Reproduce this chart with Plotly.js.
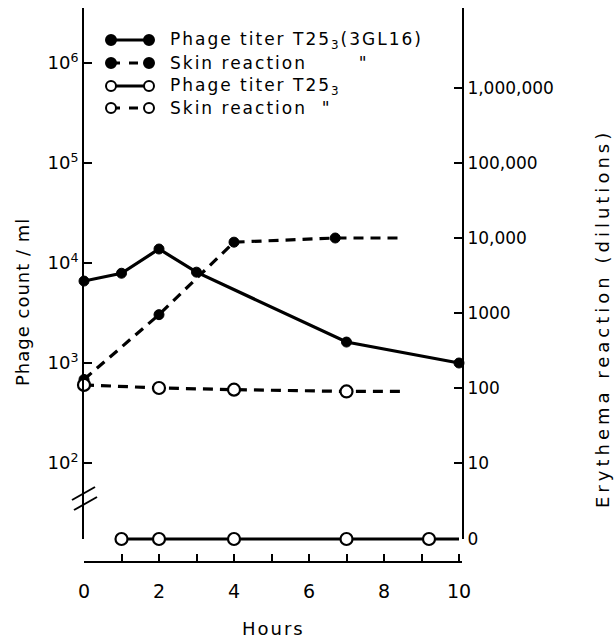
<!DOCTYPE html>
<html>
<head>
<meta charset="utf-8">
<script src="https://cdn.plot.ly/plotly-3.0.1.min.js"></script>
<style>html,body{margin:0;padding:0;background:#fff;}#chart{width:614px;height:640px;}</style>
</head>
<body>
<div id="chart"></div>
<script>
// ---- data ----
const titerFilledHours = [0, 1, 2, 3, 7, 10];
const titerFilledCount = [6600, 7900, 13800, 8100, 1620, 1000];
const skinFilledHours = [0, 2, 4, 6.7, 8.5];
const skinFilledDilution = [130, 950, 8800, 10000, 10000];
const skinFilledMarkers = [true, true, true, true, false];
const skinOpenHours = [0, 2, 4, 7, 8.5];
const skinOpenDilution = [110, 100, 95, 90, 90];
const skinOpenMarkers = [true, true, true, true, false];
const titerOpenHours = [1, 2, 4, 7, 9.2, 10];
const titerOpenValue = [0, 0, 0, 0, 0, 0];
const titerOpenMarkers = [true, true, true, true, true, false];
const hourLabelTicks = [0, 2, 4, 6, 8, 10];
const hourMinorTicks = [1, 3, 5, 7, 9];
const leftTicks = [1e2, 1e3, 1e4, 1e5, 1e6];
const leftLabels = ['10<sup>2</sup>','10<sup>3</sup>','10<sup>4</sup>','10<sup>5</sup>','10<sup>6</sup>'];
const rightTicks = [10, 100, 1000, 10000, 100000, 1000000];
const rightLabels = ['10','100','1000','10,000','100,000','1,000,000'];
const zeroLabel = ['0'];
const legendLabels = ['Phage titer T25<sub>3</sub>(3GL16)', 'Skin reaction       "', 'Phage titer T25<sub>3</sub>', 'Skin reaction  "'];

// ---- layout helpers ----
const FONT = '"DejaVu Sans", "Liberation Sans", sans-serif';
const PL = 84, PR = 462, PT = 8, PB = 562;
const px = v => (v - PL) / (PR - PL);
const py = v => (PB - v) / (PB - PT);
const spaced = (t, s) => '<span style="letter-spacing:' + s + 'px">' + t + '</span>';
const pick = (arr, flags) => arr.filter((_, i) => flags[i]);

const filledMarker = {color:'#000', size:10, line:{color:'#000', width:1}};
const openMarker = {color:'#fff', size:12, line:{color:'#000', width:2.2}};

const traces = [
  // phage titer T25_3(3GL16) – solid, filled
  {x: titerFilledHours, y: titerFilledCount, xaxis:'x', yaxis:'y', mode:'lines+markers',
   line:{color:'#000', width:3.2}, marker:filledMarker, showlegend:false, cliponaxis:false},
  // skin reaction (3GL16) – dashed, filled
  {x: skinFilledHours, y: skinFilledDilution, xaxis:'x', yaxis:'y2', mode:'lines',
   line:{color:'#000', width:3.2, dash:'10px,7px'}, showlegend:false},
  {x: pick(skinFilledHours, skinFilledMarkers), y: pick(skinFilledDilution, skinFilledMarkers), xaxis:'x', yaxis:'y2', mode:'markers',
   marker:filledMarker, showlegend:false, cliponaxis:false},
  // skin reaction T25_3 – dashed, open
  {x: skinOpenHours, y: skinOpenDilution, xaxis:'x', yaxis:'y2', mode:'lines',
   line:{color:'#000', width:3.2, dash:'10px,7px'}, showlegend:false},
  {x: pick(skinOpenHours, skinOpenMarkers), y: pick(skinOpenDilution, skinOpenMarkers), xaxis:'x', yaxis:'y2', mode:'markers',
   marker:openMarker, showlegend:false, cliponaxis:false},
  // phage titer T25_3 – zero row, open
  {x: titerOpenHours, y: titerOpenValue, xaxis:'x', yaxis:'y5', mode:'lines',
   line:{color:'#000', width:3}, showlegend:false},
  {x: pick(titerOpenHours, titerOpenMarkers), y: pick(titerOpenValue, titerOpenMarkers), xaxis:'x', yaxis:'y5', mode:'markers',
   marker:openMarker, showlegend:false, cliponaxis:false},
  {x: [], y: [], xaxis:'x', yaxis:'y3', showlegend:false},
  {x: [], y: [], xaxis:'x', yaxis:'y4', showlegend:false}
];

const axisCommon = {showgrid:false, zeroline:false, showline:true, linecolor:'#000', linewidth:2,
  ticks:'inside', tickcolor:'#000', tickwidth:2, ticklen:8, tickfont:{family:FONT, size:18, color:'#000'}};

const mainBottom = py(480);
const lowTop = mainBottom, lowBottom = py(539);

const shapes = [];
const annotations = [];

// axis break marks
shapes.push({type:'line', xref:'paper', yref:'paper', x0:px(72), y0:py(500), x1:px(95), y1:py(487), line:{color:'#000', width:2}});
shapes.push({type:'line', xref:'paper', yref:'paper', x0:px(74), y0:py(510), x1:px(97), y1:py(497), line:{color:'#000', width:2}});

// legend
const rowsY = [40, 63, 86, 108];
const rowFilled = [true, true, false, false];
const rowDash = [false, true, false, true];
rowsY.forEach((ry, i) => {
  shapes.push({type:'line', xref:'paper', yref:'paper', x0:px(111), x1:px(149), y0:py(ry), y1:py(ry),
    line:{color:'#000', width:3, dash: rowDash[i] ? 'dash' : 'solid'}});
  [111, 149].forEach(cx => {
    shapes.push({type:'circle', xref:'paper', yref:'paper', x0:px(cx-5), x1:px(cx+5), y0:py(ry+5), y1:py(ry-5),
      fillcolor: rowFilled[i] ? '#000' : '#fff', line:{color:'#000', width:2}});
  });
  annotations.push({xref:'paper', yref:'paper', x:px(168), y:py(ry), xanchor:'left', yanchor:'middle',
    text: spaced(legendLabels[i], 2), showarrow:false, font:{family:FONT, size:17, color:'#000'}});
});

// axis titles
annotations.push({xref:'paper', yref:'paper', x:px(22), y:py(302), text:spaced('Phage count / ml', 1), textangle:-90,
  showarrow:false, xanchor:'center', yanchor:'middle', font:{family:FONT, size:18, color:'#000'}});
annotations.push({xref:'paper', yref:'paper', x:px(602), y:py(319), text:spaced('Erythema reaction (dilutions)', 4), textangle:-90,
  showarrow:false, xanchor:'center', yanchor:'middle', font:{family:FONT, size:18, color:'#000'}});
annotations.push({xref:'paper', yref:'paper', x:px(273), y:py(628), text:spaced('Hours', 2),
  showarrow:false, xanchor:'center', yanchor:'middle', font:{family:FONT, size:18, color:'#000'}});

const layout = {
  width:614, height:640, paper_bgcolor:'#fff', plot_bgcolor:'rgba(0,0,0,0)',
  margin:{l:PL, r:614-PR, t:PT, b:640-PB, pad:0},
  showlegend:false,
  xaxis: Object.assign({}, axisCommon, {range:[0, 10.08], anchor:'free', position:0,
    tickmode:'array', tickvals:hourLabelTicks, ticklen:7, ticklabelstandoff:12, tickfont:{family:FONT, size:19, color:'#000'},
    minor:{tickmode:'array', tickvals:hourMinorTicks, ticks:'inside', ticklen:7, tickwidth:2, tickcolor:'#000', showgrid:false}}),
  yaxis: Object.assign({}, axisCommon, {type:'log', range:[1.83, 6.55], domain:[mainBottom, 1], anchor:'x',
    tickvals:leftTicks, ticktext:leftLabels}),
  yaxis2: Object.assign({}, axisCommon, {type:'log', range:[0.773, 7.067], overlaying:'y', side:'right', anchor:'x',
    tickvals:rightTicks, ticktext:rightLabels, tickfont:{family:FONT, size:17, color:'#000'}}),
  yaxis3: Object.assign({}, axisCommon, {range:[0, 1], domain:[lowBottom, lowTop], anchor:'x',
    tickvals:[0], showticklabels:false}),
  yaxis4: Object.assign({}, axisCommon, {range:[0, 1], overlaying:'y3', side:'right', anchor:'x',
    tickvals:[0], ticktext:zeroLabel, tickfont:{family:FONT, size:17, color:'#000'}}),
  yaxis5: {visible:false, range:[-1, 1], domain:[0, 2*lowBottom], anchor:'x', fixedrange:true},
  shapes: shapes,
  annotations: annotations
};

Plotly.newPlot('chart', traces, layout, {displayModeBar:false, staticPlot:true});
</script>
</body>
</html>
